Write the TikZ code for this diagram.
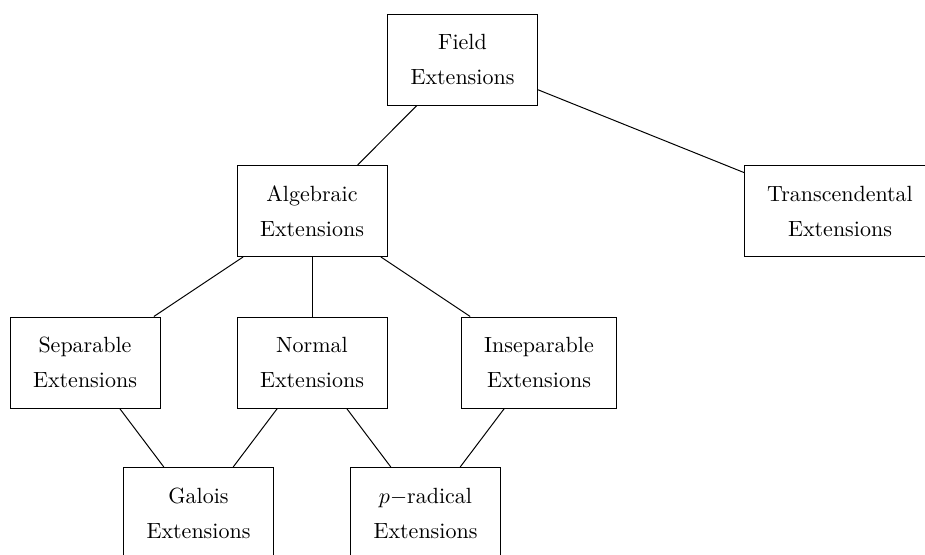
\documentclass[tikz,border=0pt]{standalone}
\begin{document}
\begin{tikzpicture}[x=0.4545pt,y=-0.4545pt,
  box/.style={draw, rectangle, align=center, minimum width=68.2pt, minimum height=41.4pt,
    inner xsep=10.2pt, font=\fontsize{10}{15.9}\selectfont},
  link/.style={draw, line width=0.45pt}]
\useasboundingbox (0,0) rectangle (925,555);
\clip (0,0) rectangle (925,555);
\node[box] (field) at (462.5,59.5) {Field\\Extensions};
\node[box] (alg) at (312,211) {Algebraic\\Extensions};
\node[box] (trans) at (840,211) {Transcendental\\Extensions};
\node[box] (sep) at (85,362.5) {Separable\\Extensions};
\node[box] (norm) at (312,362.5) {Normal\\Extensions};
\node[box] (insep) at (539,362.5) {Inseparable\\Extensions};
\node[box] (gal) at (198.5,513) {Galois\\Extensions};
\node[box] (prad) at (425.5,513) {$p-$radical\\Extensions};
\draw[link] (field) -- (alg);
\draw[link] (field) -- (trans);
\draw[link] (alg) -- (sep);
\draw[link] (alg) -- (norm);
\draw[link] (alg) -- (insep);
\draw[link] (sep) -- (gal);
\draw[link] (norm) -- (gal);
\draw[link] (norm) -- (prad);
\draw[link] (insep) -- (prad);
\end{tikzpicture}
\end{document}
